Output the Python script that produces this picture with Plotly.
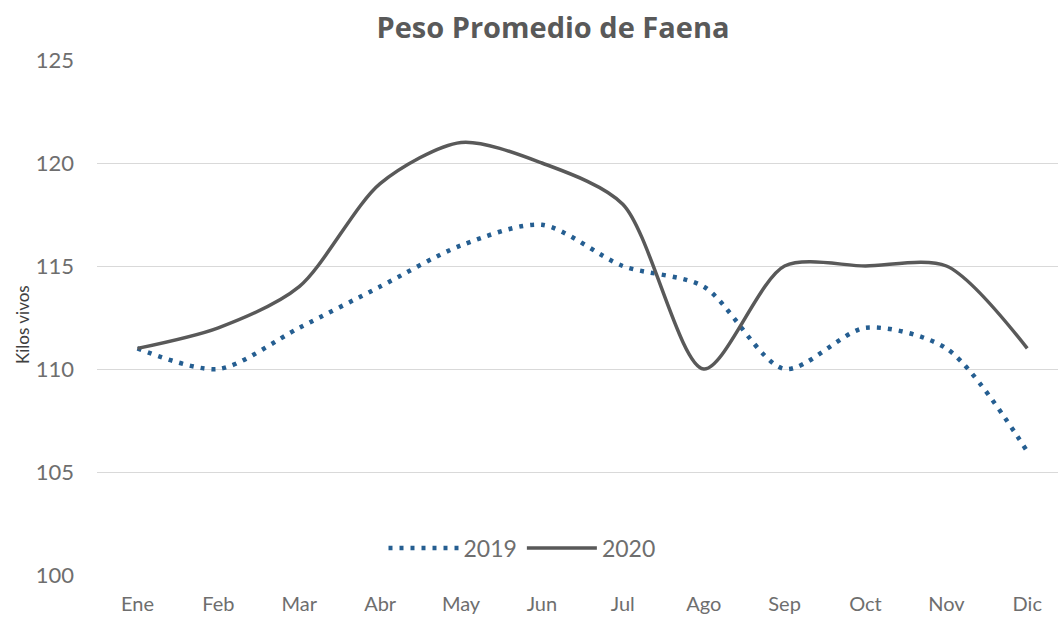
import plotly.graph_objects as go

months = ["Ene", "Feb", "Mar", "Abr", "May", "Jun", "Jul", "Ago", "Sep", "Oct", "Nov", "Dic"]
y2019 = [111, 110, 112, 114, 116, 117, 115, 114, 110, 112, 111, 106]
y2020 = [111, 112, 114, 119, 121, 120, 118, 110, 115, 115, 115, 111]

fig = go.Figure()
fig.add_trace(go.Scatter(x=list(range(12)), y=y2019, name="2019", mode="lines",
                         line=dict(color="#255E91", width=4.5, dash="4px,7px", shape="spline", smoothing=0.8)))
fig.add_trace(go.Scatter(x=list(range(12)), y=y2020, name="2020", mode="lines",
                         line=dict(color="#595959", width=3.5, shape="spline", smoothing=0.8)))

L, T, B = 97, 60, 575
PW, PH = 1058 - L, B - T
lab = "#6E6E6E"
fig.update_layout(
    width=1058, height=617,
    paper_bgcolor="white", plot_bgcolor="white",
    margin=dict(l=L, r=0, t=T, b=617 - B),
    title=dict(text="<b>Peso Promedio de Faena</b>", x=553 / 1058, xanchor="center", y=1 - 28 / 617, yanchor="middle",
               font=dict(family="Open Sans, Lato, sans-serif", size=29, color="#595959")),
    xaxis=dict(tickmode="array", tickvals=list(range(12)), ticktext=months,
               range=[-0.5, 11.38], showgrid=False, zeroline=False, showline=False,
               tickfont=dict(family="Lato, DejaVu Sans, sans-serif", size=20, color=lab), ticks="",
               ticklabelstandoff=15, automargin=False),
    yaxis=dict(range=[100, 125], dtick=5, showgrid=True, gridcolor="#D9D9D9", gridwidth=1,
               zeroline=False, showline=False,
               tickfont=dict(family="Lato, DejaVu Sans, sans-serif", size=22, color=lab),
               ticks="", ticklabelstandoff=22, automargin=False),
    legend=dict(orientation="h", x=(522 - L) / PW, xanchor="center", y=1 - (548 - T) / PH, yanchor="middle",
                bgcolor="rgba(0,0,0,0)",
                font=dict(family="Lato, DejaVu Sans, sans-serif", size=23, color=lab),
                itemwidth=70),
    showlegend=True,
    annotations=[dict(text="Kilos vivos", x=(22 - L) / PW, y=1 - (325 - T) / PH, xref="paper", yref="paper",
                      xanchor="center", yanchor="middle", textangle=-90, showarrow=False,
                      font=dict(family="Lato, DejaVu Sans, sans-serif", size=17, color="#404040"))],
)
fig.write_html("out.html", config={"displayModeBar": False},
               post_script="document.body.style.margin='0';")
